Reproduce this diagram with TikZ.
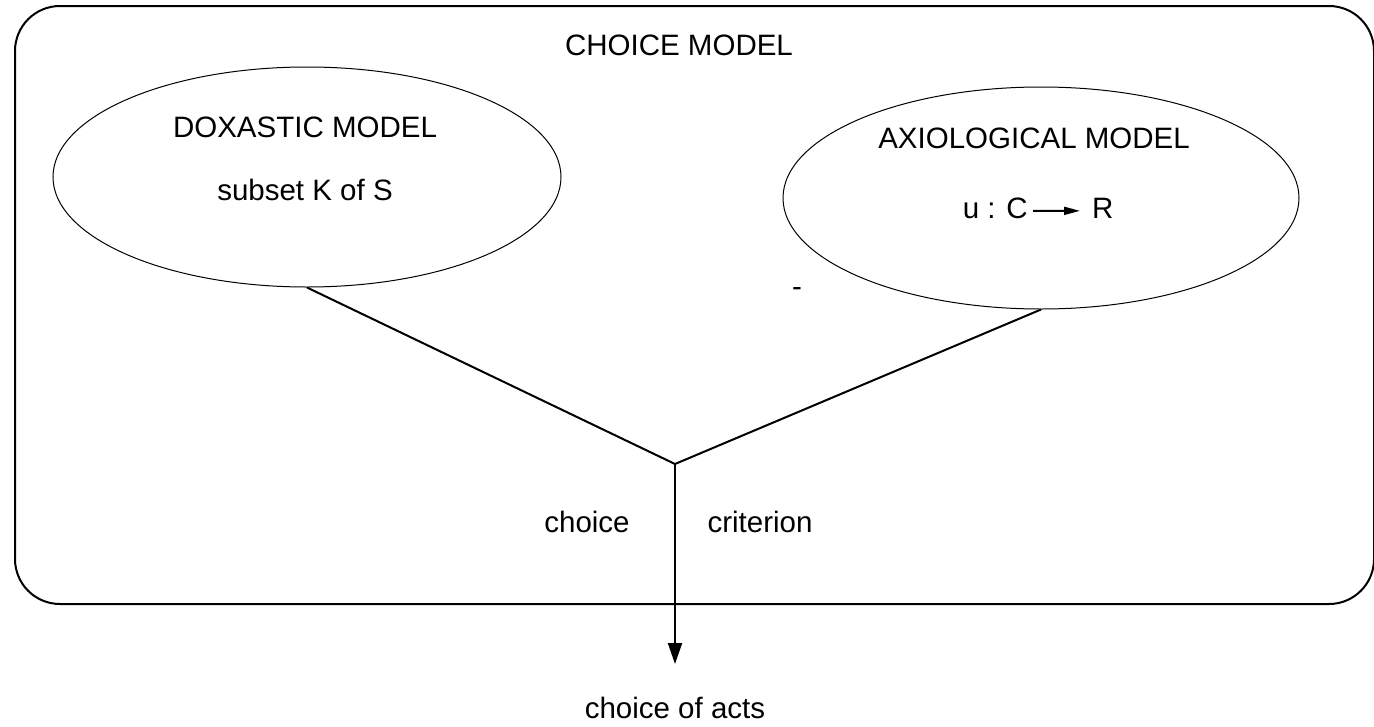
\documentclass[tikz,border=0pt]{standalone}
\usepackage{fontspec}
\setmainfont{Liberation Sans}
\usetikzlibrary{shapes.geometric,arrows.meta}
\begin{document}
\begin{tikzpicture}[x=1pt,y=-1pt,
  lbl/.style={anchor=base,inner sep=0pt,font=\fontsize{29.5}{34}\selectfont},
  model/.style={draw,ellipse,line width=1pt,inner sep=0pt},
  link/.style={line width=2pt}]
\useasboundingbox (0,0) rectangle (1374,726);

% outer frame of the choice model
\node[draw,line width=2pt,rounded corners=45pt,minimum width=1359pt,minimum height=598pt,inner sep=0pt]
  (frame) at (694.5,305) {};
\node[lbl] (title) at (679,55) {CHOICE MODEL};

% the two sub-models
\node[model,minimum width=508pt,minimum height=220pt] (dox) at (307,177) {};
\node[lbl] (doxname) at (305,137) {DOXASTIC MODEL};
\node[lbl] (doxset) at (305,200) {subset K of S};

\node[model,minimum width=516pt,minimum height=222pt] (axi) at (1041,198) {};
\node[lbl] (axiname) at (1034,148) {AXIOLOGICAL MODEL};
\node[lbl,anchor=base east] (uc) at (1028,218) {u : C};
\node[lbl,anchor=base west] (r) at (1092,218) {R};
\draw[line width=2pt,shorten <=5pt,shorten >=12pt,-{Triangle[width=8pt,length=16pt]}]
  ([yshift=-3pt]uc.east) -- ([yshift=-3pt]r.west);
\node[lbl] (dash) at (797,296) {-};

% joining the models into the criterion
\coordinate (junc) at (675,464);
\coordinate (tip) at (675,664);
\draw[link] (dox.south) -- (junc);
\draw[link] (axi.south) -- (junc);
\draw[link,-{Triangle[width=14pt,length=21pt]}] (junc) -- (tip);

\node[lbl] (choice) at (587,532) {choice};
\node[lbl] (crit) at (760,532) {criterion};
\node[lbl] (acts) at (675,718) {choice of acts};
\end{tikzpicture}
\end{document}
